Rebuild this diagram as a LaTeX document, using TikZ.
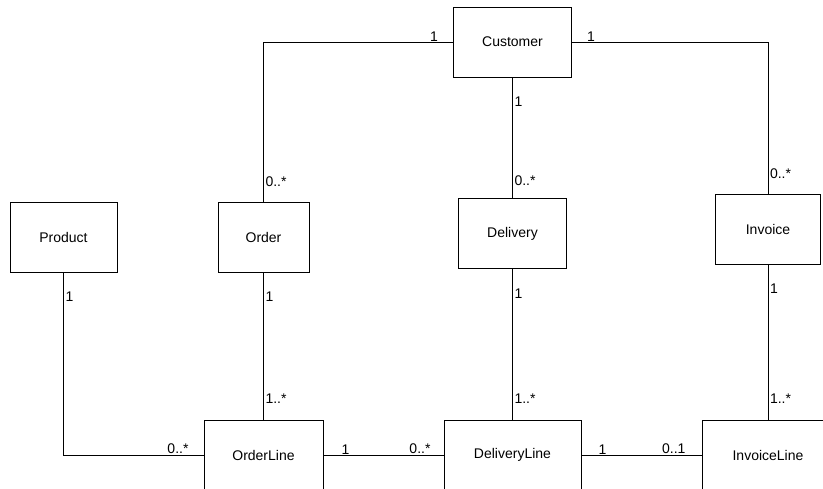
\documentclass[tikz,border=0pt]{standalone}
\usepackage{fontspec}
\setmainfont{Liberation Sans}
\usetikzlibrary{positioning}

\begin{document}
\begin{tikzpicture}[x=1pt, y=-1pt, line width=1pt,
  box/.style={rectangle, draw, minimum height=70pt, font=\fontsize{14}{16}\selectfont},
  mult/.style={inner sep=0.5pt, font=\fontsize{14}{16}\selectfont}]
  \useasboundingbox (0,0) rectangle (823,488);
  \clip (0,0) rectangle (823,488);

  \node[box, minimum width=119pt] (OrderLine) at (263.5,455) {OrderLine};
  \node[box, minimum width=137pt, right of=OrderLine, node distance=249pt] (DeliveryLine) {DeliveryLine};
  \node[box, minimum width=132pt, right of=DeliveryLine, node distance=255.5pt] (InvoiceLine) {InvoiceLine};
  \node[box, minimum width=91pt, above of=OrderLine, node distance=218pt] (Order) {Order};
  \node[box, minimum width=108pt, above of=DeliveryLine, node distance=221.5pt] (Delivery) {Delivery};
  \node[box, minimum width=105pt, above of=InvoiceLine, node distance=225.5pt] (Invoice) {Invoice};
  \node[box, minimum width=107pt, left of=Order, node distance=200pt] (Product) {Product};
  \node[box, minimum width=118pt, above of=Delivery, node distance=191.5pt] (Customer) {Customer};

  \draw (Customer.west) node[mult, above left=0pt and 14pt] {1} -| (Order.north) node[mult, above right=14pt and 1pt] {0..*};
  \draw (Customer.east) node[mult, above right=0pt and 14pt] {1} -| (Invoice.north) node[mult, above right=14pt and 1pt] {0..*};
  \draw (Customer.south) node[mult, below right=18pt and 1pt] {1} -- (Delivery.north) node[mult, above right=11pt and 1pt] {0..*};
  \draw (Order.south) node[mult, below right=18pt and 1pt] {1} -- (OrderLine.north) node[mult, above right=15pt and 1pt] {1..*};
  \draw (Delivery.south) node[mult, below right=19pt and 1pt] {1} -- (DeliveryLine.north) node[mult, above right=15pt and 1pt] {1..*};
  \draw (Invoice.south) node[mult, below right=18pt and 1pt] {1} -- (InvoiceLine.north) node[mult, above right=15pt and 1pt] {1..*};
  \draw (Product.south) node[mult, below right=18pt and 1pt] {1} |- (OrderLine.west) node[mult, above left=0pt and 14pt] {0..*};
  \draw (OrderLine.east) node[mult, above right=0pt and 17pt] {1} -- (DeliveryLine.west) node[mult, above left=0pt and 12pt] {0..*};
  \draw (DeliveryLine.east) node[mult, above right=0pt and 16pt] {1} -- (InvoiceLine.west) node[mult, above left=0pt and 15pt] {0..1};
\end{tikzpicture}
\end{document}
